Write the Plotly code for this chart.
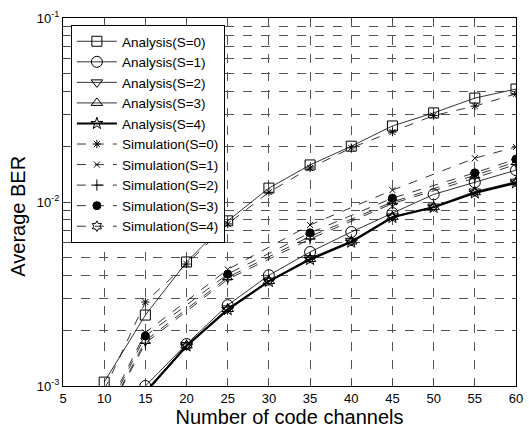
import plotly.graph_objects as go

x_all = [10, 15, 20, 25, 30, 35, 40, 45, 50, 55, 60]
ana_s0 = [1.05e-3, 2.43e-3, 4.72e-3, 7.9e-3, 1.19e-2, 1.59e-2, 2.01e-2, 2.59e-2, 3.05e-2, 3.67e-2, 4.11e-2]
ana_s1 = [4.5e-4, 1.0e-3, 1.69e-3, 2.75e-3, 4.0e-3, 5.35e-3, 6.87e-3, 8.7e-3, 1.10e-2, 1.28e-2, 1.49e-2]
ana_s2 = [4.2e-4, 9.4e-4, 1.67e-3, 2.64e-3, 3.74e-3, 4.95e-3, 6.15e-3, 8.35e-3, 9.45e-3, 1.14e-2, 1.29e-2]
ana_s3 = [4.1e-4, 9.3e-4, 1.66e-3, 2.62e-3, 3.72e-3, 4.9e-3, 6.1e-3, 8.3e-3, 9.4e-3, 1.13e-2, 1.28e-2]
ana_s4 = [4.0e-4, 9.2e-4, 1.65e-3, 2.6e-3, 3.7e-3, 4.87e-3, 6.05e-3, 8.25e-3, 9.35e-3, 1.12e-2, 1.27e-2]

sim_s0 = [9.5e-4, 2.86e-3, 4.6e-3, 7.6e-3, 1.13e-2, 1.53e-2, 1.97e-2, 2.4e-2, 2.95e-2, 3.32e-2, 3.87e-2]
x_sim = [10, 15, 25, 35, 45, 55, 60]
sim_s1 = [7.0e-4, 1.95e-3, 4.3e-3, 7.5e-3, 1.16e-2, 1.73e-2, 1.99e-2]
sim_s2 = [6.5e-4, 1.71e-3, 3.8e-3, 6.3e-3, 9.8e-3, 1.35e-2, 1.6e-2]
sim_s3 = [6.8e-4, 1.87e-3, 4.06e-3, 6.8e-3, 1.05e-2, 1.44e-2, 1.71e-2]
sim_s4 = [6.6e-4, 1.76e-3, 3.9e-3, 6.5e-3, 1.0e-2, 1.4e-2, 1.65e-2]

x_ticks = [5, 10, 15, 20, 25, 30, 35, 40, 45, 50, 55, 60]

fig = go.Figure()

def add(name, x, y, symbol, dash, width=1, size=9):
    fig.add_trace(go.Scatter(
        x=x, y=y, name=name, mode="lines+markers",
        line=dict(color="black", width=width, dash=dash),
        marker=dict(symbol=symbol, size=size, color="black",
                    line=dict(color="black", width=1)),
        cliponaxis=True,
    ))

add("Analysis(S=0)", x_all, ana_s0, "square-open", "solid", 0.8, 10)
add("Analysis(S=1)", x_all, ana_s1, "circle-open", "solid", 0.8, 11)
add("Analysis(S=2)", x_all, ana_s2, "triangle-down-open", "solid", 0.8, 10)
add("Analysis(S=3)", x_all, ana_s3, "triangle-up-open", "solid", 0.8, 10)
add("Analysis(S=4)", x_all, ana_s4, "star-open", "solid", 2, 9)
add("Simulation(S=0)", x_all, sim_s0, "asterisk-open", "dash", 0.8, 7)
add("Simulation(S=1)", x_sim, sim_s1, "x-thin-open", "dash", 0.8, 6)
add("Simulation(S=2)", x_sim, sim_s2, "cross-thin-open", "dash", 0.8, 8)
add("Simulation(S=3)", x_sim, sim_s3, "circle", "dash", 0.8, 8)
add("Simulation(S=4)", x_sim, sim_s4, "hexagram-open", "dash", 0.8, 8)

# y ticks: all log grid positions, label only decades
y_tickvals = []
y_ticktext = []
for d in [-3, -2]:
    for m in range(1, 10):
        y_tickvals.append(m * 10.0 ** d)
        y_ticktext.append("10<sup>%d</sup>" % d if m == 1 else "")
y_tickvals.append(1e-1)
y_ticktext.append("10<sup>-1</sup>")

fig.update_layout(
    width=529, height=432,
    margin=dict(l=63, r=6, t=18, b=46),
    paper_bgcolor="white", plot_bgcolor="white",
    font=dict(family="Liberation Sans, Arial", color="black", size=13),
    showlegend=True,
    legend=dict(x=0.0174, y=0.981, xanchor="left", yanchor="top",
                bgcolor="white", bordercolor="black", borderwidth=1,
                font=dict(size=13.5), tracegroupgap=0, itemwidth=40),
    xaxis=dict(range=[5, 60], tickvals=x_ticks, ticks="inside", ticklen=4,
               showline=True, linecolor="black", linewidth=1, mirror="ticks",
               showgrid=True, gridcolor="#555555", griddash="dash", gridwidth=0.7,
               zeroline=False, ticklabeloverflow="allow",
               tickfont=dict(size=13),
               title=dict(text="Number of code channels", font=dict(size=20), standoff=2)),
    yaxis=dict(type="log", range=[-3, -1], tickvals=y_tickvals, ticktext=y_ticktext,
               ticks="inside", ticklen=4,
               showline=True, linecolor="black", linewidth=1, mirror="ticks",
               showgrid=True, gridcolor="#555555", griddash="dash", gridwidth=0.7,
               zeroline=False, tickfont=dict(size=13)),
    annotations=[dict(text="Average BER", textangle=-90, xref="paper", yref="paper",
                      x=-0.1, y=0.462, xanchor="center", yanchor="middle",
                      showarrow=False, font=dict(size=20))],
)

fig.write_html("out.html")
